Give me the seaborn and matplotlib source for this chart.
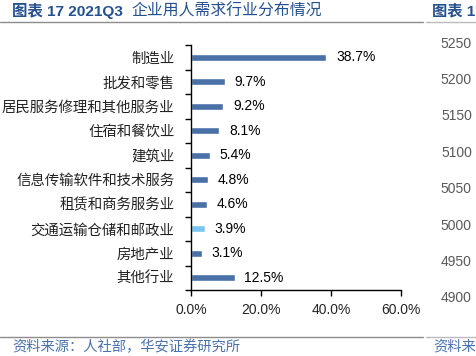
import matplotlib
matplotlib.use("Agg")
import matplotlib.pyplot as plt
import seaborn as sns
from matplotlib.ticker import FuncFormatter
from matplotlib.lines import Line2D

categories = ["制造业", "批发和零售", "居民服务修理和其他服务业", "住宿和餐饮业", "建筑业",
              "信息传输软件和技术服务", "租赁和商务服务业", "交通运输仓储和邮政业", "房地产业", "其他行业"]
values = [38.7, 9.7, 9.2, 8.1, 5.4, 4.8, 4.6, 3.9, 3.1, 12.5]
highlight = "交通运输仓储和邮政业"
x_ticks = [0, 20, 40, 60]
side_ticks = [4900, 4950, 5000, 5050, 5100, 5150, 5200, 5250]

sns.set_theme(style="white")
plt.rcParams["font.family"] = ["Liberation Sans", "Noto Sans CJK SC", "DejaVu Sans"]

W, H = 476, 356
fig = plt.figure(figsize=(W / 100, H / 100), dpi=100)
fig.patch.set_facecolor("white")

def fx(px):
    return px / W

def fy(py):
    return 1 - py / H

# main axes
left, right, top, bottom = 191, 401, 45, 290
ax = fig.add_axes([fx(left), fy(bottom), fx(right - left), (bottom - top) / H])
palette = ["#7CC4F0" if c == highlight else "#4A70A8" for c in categories]
sns.barplot(x=values, y=categories, hue=categories, palette=palette, legend=False,
            width=0.3, ax=ax, orient="h", saturation=1)
for cont in ax.containers:
    ax.bar_label(cont, fmt="%.1f%%", padding=7, fontsize=10, color="black",
                 family=["Liberation Sans"])
ax.set_xlim(0, 60)
ax.set_ylim(len(categories) - 0.5, -0.5)
ax.set_xticks(x_ticks)
ax.xaxis.set_major_formatter(FuncFormatter(lambda v, p: f"{v:.1f}%"))
ax.tick_params(axis="x", direction="out", length=4, width=1, color="black",
               labelsize=10, pad=5, bottom=True)
ax.set_yticks(range(len(categories)))
ax.set_yticklabels(categories, family=["Noto Sans CJK SC"], fontsize=10.4)
ax.set_yticks([i - 0.5 for i in range(len(categories) + 1)], minor=True)
ax.tick_params(axis="y", which="major", length=0, pad=12, labelcolor="#222222")
ax.tick_params(axis="y", which="minor", direction="out", length=4, width=1,
               color="black", left=True)
for s in ["top", "right"]:
    ax.spines[s].set_visible(False)
for s in ["left", "bottom"]:
    ax.spines[s].set_color("black")
    ax.spines[s].set_linewidth(1)
ax.set_xlabel("")
ax.set_ylabel("")

# neighbouring cut-off chart axis
ax2 = fig.add_axes([1.0, fy(297), 0.2, (297 - 42) / H])
ax2.set_ylim(4900, 5250)
ax2.set_yticks(side_ticks)
ax2.set_yticklabels([str(t) for t in side_ticks])
ax2.tick_params(axis="y", length=0, pad=3, labelsize=10, labelcolor="#595959")
ax2.set_xticks([])
for s in ax2.spines.values():
    s.set_visible(False)

# header / footer
title_color = "#24508F"
fig.text(fx(12), fy(11), "图表 17 2021Q3", fontsize=11.1,
         fontweight="bold", color=title_color, va="center", ha="left")
fig.text(fx(131), fy(11), "企业用人需求行业分布情况", fontsize=11.4,
         color=title_color, va="center", ha="left", family=["Noto Sans CJK SC"])
fig.text(fx(432), fy(11), "图表 1", fontsize=11, fontweight="bold",
         color=title_color, va="center", ha="left")
fig.add_artist(Line2D([0, fx(423)], [fy(21.5), fy(21.5)], color="#8C8C8C", lw=1))
fig.add_artist(Line2D([fx(426), 1], [fy(21.5), fy(21.5)], color="#BBBBBB", lw=1))
fig.add_artist(Line2D([0, fx(423)], [fy(337), fy(337)], color="#8C8C8C", lw=1))
fig.add_artist(Line2D([fx(426), 1], [fy(337), fy(337)], color="#BBBBBB", lw=1))
src_color = "#4A72B0"
fig.text(fx(12), fy(347), "资料来源：人社部，华安证券研究所", fontsize=10.3,
         color=src_color, va="center", ha="left", family=["Noto Sans CJK SC"])
fig.text(fx(433), fy(347), "资料来", fontsize=10.3, color=src_color, va="center",
         ha="left", family=["Noto Sans CJK SC"])

fig.savefig("out.png", dpi=100)
